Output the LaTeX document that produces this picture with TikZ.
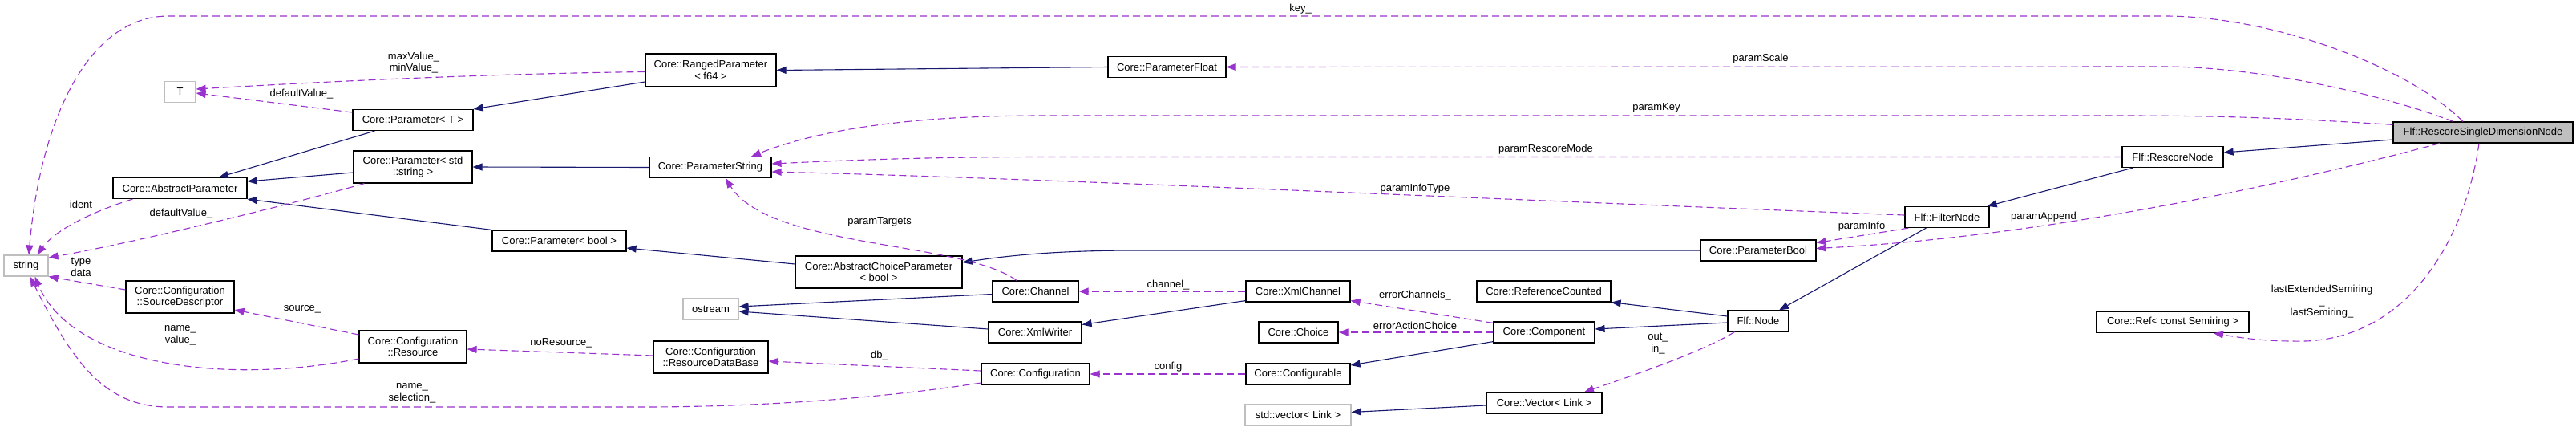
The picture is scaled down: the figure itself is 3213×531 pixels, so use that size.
\documentclass[tikz,border=0pt]{standalone}
\usepackage{fontspec}
\setmainfont{Liberation Sans}
\usetikzlibrary{arrows.meta}
\definecolor{inhcol}{HTML}{191970}
\definecolor{usecol}{HTML}{9A32CD}
\definecolor{grayb}{HTML}{BFBFBF}
\begin{document}
\begin{tikzpicture}[x=1pt,y=-1pt,
  font=\fontsize{13}{14.5}\selectfont,
  cls/.style={draw=black, line width=1.2pt, fill=white, inner sep=0pt, align=center, minimum height=26pt},
  cls2/.style={cls, minimum height=40pt},
  ext/.style={cls, draw=grayb},
  mainbox/.style={cls, fill=grayb},
  inhedge/.style={draw=inhcol, line width=1.1pt, -{Triangle[length=12pt,width=9pt]}},
  useedge/.style={draw=usecol, line width=1.1pt, dash pattern=on 9pt off 5pt, -{Triangle[length=12pt,width=9pt]}},
  lbl/.style={inner sep=0pt, align=center},
]
\useasboundingbox[fill=white] (0,0) rectangle (3213,531);

% nodes
\node[ext, minimum width=55pt] (string) at (32.5,331) {string};
\node[ext, minimum width=39pt] (T) at (224.5,114.5) {T};
\node[cls, minimum width=167pt] (absparam) at (224.5,234.5) {Core::AbstractParameter};
\node[cls2, minimum width=135pt] (srcdesc) at (224.5,370) {Core::Configuration\\::SourceDescriptor};
\node[cls, minimum width=150pt] (paramT) at (515,149.5) {Core::Parameter< T >};
\node[cls2, minimum width=148pt] (paramStr) at (515,208) {Core::Parameter< std\\::string >};
\node[cls2, minimum width=134pt] (resource) at (515,432) {Core::Configuration\\::Resource};
\node[cls2, minimum width=163pt, minimum height=41pt] (ranged) at (886.5,87.5) {Core::RangedParameter\\< f64 >};
\node[cls, minimum width=152pt] (pstring) at (886,208.5) {Core::ParameterString};
\node[cls, minimum width=167pt] (pbool) at (697.5,300) {Core::Parameter< bool >};
\node[cls2, minimum width=208pt] (achoice) at (1096,339) {Core::AbstractChoiceParameter\\< bool >};
\node[ext, minimum width=69pt] (ostream) at (886.5,385) {ostream};
\node[cls2, minimum width=143pt] (rdb) at (886.5,445) {Core::Configuration\\::ResourceDataBase};
\node[cls, minimum width=147pt] (pfloat) at (1455.5,83.5) {Core::ParameterFloat};
\node[cls, minimum width=107pt] (channel) at (1291.5,363) {Core::Channel};
\node[cls, minimum width=116pt] (xmlwriter) at (1291,414) {Core::XmlWriter};
\node[cls, minimum width=135pt] (config) at (1291.5,466) {Core::Configuration};
\node[cls, minimum width=130pt] (xmlchannel) at (1619,363) {Core::XmlChannel};
\node[cls, minimum width=99pt] (choice) at (1619.5,414) {Core::Choice};
\node[cls, minimum width=130pt] (configurable) at (1619,466) {Core::Configurable};
\node[ext, minimum width=132pt] (stdvec) at (1619,517) {std::vector< Link >};
\node[cls, minimum width=167pt] (refcounted) at (1925.5,363) {Core::ReferenceCounted};
\node[cls, minimum width=126pt] (component) at (1926,414) {Core::Component};
\node[cls, minimum width=144pt] (vector) at (1926,502) {Core::Vector< Link >};
\node[cls, minimum width=144pt] (pboolc) at (2193,312) {Core::ParameterBool};
\node[cls, minimum width=105pt] (filternode) at (2428.5,270.5) {Flf::FilterNode};
\node[cls, minimum width=76pt] (flfnode) at (2193,400) {Flf::Node};
\node[cls, minimum width=126pt] (rescore) at (2710,195.5) {Flf::RescoreNode};
\node[cls, minimum width=190pt] (semiref) at (2710,401.5) {Core::Ref< const Semiring >};
\node[mainbox, minimum width=224pt] (rsdn) at (3097,165) {Flf::RescoreSingleDimensionNode};

% inheritance edges
\draw[inhedge] ([xshift=28pt]paramT.south west) -- ([xshift=48.5pt]absparam.north);
\draw[inhedge] ([yshift=-7pt]paramStr.west) -- ([yshift=8.5pt]absparam.east);
\draw[inhedge] (pbool.north west) -- (absparam.south east);
\draw[inhedge] ([yshift=-14.5pt]ranged.west) -- (paramT.north east);
\draw[inhedge] (pfloat.west) -- (ranged.east);
\draw[inhedge] (pstring.west) -- (paramStr.east);
\draw[inhedge] ([yshift=10pt]achoice.west) -- ([yshift=-9pt]pbool.east);
\draw[inhedge] (pboolc.west) -- (1420,312) .. controls (1320,312) and (1260,318) .. ([yshift=12pt]achoice.east);
\draw[inhedge] ([yshift=-3.5pt]channel.west) -- ([yshift=3pt]ostream.east);
\draw[inhedge] ([yshift=4pt]xmlwriter.west) -- ([yshift=-3pt]ostream.east);
\draw[inhedge] ([yshift=2pt]xmlchannel.south west) -- ([yshift=9.5pt]xmlwriter.east);
\draw[inhedge] ([yshift=2pt]component.south west) -- ([yshift=11pt]configurable.east);
\draw[inhedge] ([yshift=6pt]flfnode.west) -- (refcounted.south east);
\draw[inhedge] ([yshift=-2pt]flfnode.west) -- ([yshift=4pt]component.east);
\draw[inhedge] ([yshift=-3pt]vector.west) -- ([yshift=3.5pt]stdvec.east);
\draw[inhedge] ([xshift=27pt]filternode.south west) -- ([xshift=26pt]flfnode.north);
\draw[inhedge] ([xshift=14pt]rescore.south west) -- ([xshift=-3pt]filternode.north east);
\draw[inhedge] ([yshift=-9pt]rsdn.west) -- ([yshift=5.5pt]rescore.east);

% usage edges
\draw[useedge] ([xshift=-25pt]rsdn.north) .. controls (3000,80) and (2830,20) .. (2700,20) -- (210,20) .. controls (110,20) and (50,150) .. ([xshift=3.5pt]string.north);
\draw[useedge] ([yshift=-2pt]ranged.west) .. controls (600,92) and (400,102) .. ([yshift=3.5pt]T.east);
\draw[useedge] ([yshift=9.5pt]paramT.west) -- ([yshift=-1.5pt]T.east);
\draw[useedge] ([xshift=25pt]absparam.south west) .. controls (120,262) and (70,285) .. ([xshift=-14pt]string.north east);
\draw[useedge] ([xshift=14pt]paramStr.south west) .. controls (380,250) and (180,300) .. ([yshift=10pt]string.east);
\draw[useedge] ([yshift=9pt]srcdesc.west) -- (string.south east);
\draw[useedge] ([yshift=15pt]resource.west) -- ([yshift=-16pt]srcdesc.east);
\draw[useedge] ([yshift=-15pt]resource.west) .. controls (280,480) and (90,455) .. ([xshift=11pt]string.south);
\draw[useedge] ([yshift=-11pt]config.west) .. controls (1100,496) and (950,507) .. (800,507) -- (210,507) .. controls (130,507) and (90,450) .. ([xshift=5pt]string.south);
\draw[useedge] ([yshift=2pt]rdb.west) -- ([yshift=-3pt]resource.east);
\draw[useedge] ([yshift=4pt]config.west) -- ([yshift=-5pt]rdb.east);
\draw[useedge] (configurable.west) -- (config.east);
\draw[useedge] (xmlchannel.west) -- (channel.east);
\draw[useedge] ([yshift=-2pt]component.north west) -- ([yshift=2pt]xmlchannel.south east);
\draw[useedge] (component.west) -- (choice.east);
\draw[useedge] ([xshift=9pt]flfnode.south west) .. controls (2120,440) and (2030,470) .. ([xshift=50pt]vector.north);
\draw[useedge] ([xshift=-23.5pt]channel.north) .. controls (1200,300) and (960,310) .. ([xshift=19pt]pstring.south);
\draw[useedge] ([xshift=-37pt]rsdn.north) .. controls (2950,110) and (2800,83) .. (2700,83) -- (pfloat.east);
\draw[useedge] ([yshift=-4pt]rsdn.north west) .. controls (2900,150) and (2800,144) .. (2650,144) -- (1300,144) .. controls (1100,144) and (1000,170) .. ([xshift=51pt]pstring.north);
\draw[useedge] (rescore.west) -- (1300,195.5) .. controls (1150,195.5) and (1050,200) .. ([yshift=4.5pt]pstring.east);
\draw[useedge] ([yshift=2.5pt]filternode.west) .. controls (1900,250) and (1300,222) .. ([yshift=-5.5pt]pstring.east);
\draw[useedge] ([xshift=5pt]filternode.south west) -- ([yshift=9.5pt]pboolc.east);
\draw[useedge] ([xshift=-54pt]rsdn.south) .. controls (2850,230) and (2550,295) .. ([yshift=2.5pt]pboolc.east);
\draw[useedge] ([xshift=-5pt]rsdn.south) .. controls (3075,300) and (3000,430) .. (2860,425) .. controls (2820,425) and (2790,420) .. ([xshift=51pt]semiref.south);

% labels
\node[lbl] (lkey) at (1622,11) {key\_};
\node[lbl] (lmax) at (516,78) {maxValue\_\\minValue\_};
\node[lbl] (ldef1) at (376,117) {defaultValue\_};
\node[lbl] (lident) at (101,255) {ident};
\node[lbl] (ldef2) at (226,266) {defaultValue\_};
\node[lbl] (ltype) at (101,333) {type\\data};
\node[lbl] (lsource) at (377,385) {source\_};
\node[lbl] (lnv) at (225,418) {name\_\\value\_};
\node[lbl] (lns) at (514,490) {name\_\\selection\_};
\node[lbl] (lnores) at (700,427) {noResource\_};
\node[lbl] (ldb) at (1097,443) {db\_};
\node[lbl] (lconfig) at (1457,457) {config};
\node[lbl] (lchannel) at (1457,355) {channel\_};
\node[lbl] (lerrch) at (1765,368) {errorChannels\_};
\node[lbl] (lerract) at (1765,406) {errorActionChoice};
\node[lbl] (linout) at (2068,428) {out\_\\in\_};
\node[lbl] (ltargets) at (1097,276) {paramTargets};
\node[lbl] (lscale) at (2196,73) {paramScale};
\node[lbl] (lpkey) at (2066,134) {paramKey};
\node[lbl] (lrescore) at (1928,186) {paramRescoreMode};
\node[lbl] (linfotype) at (1765,235) {paramInfoType};
\node[lbl] (linfo) at (2322,282) {paramInfo};
\node[lbl] (lappend) at (2549,270) {paramAppend};
\node[lbl] (lsemi) at (2896,376) {lastExtendedSemiring\\\_\\lastSemiring\_};
\end{tikzpicture}
\end{document}
